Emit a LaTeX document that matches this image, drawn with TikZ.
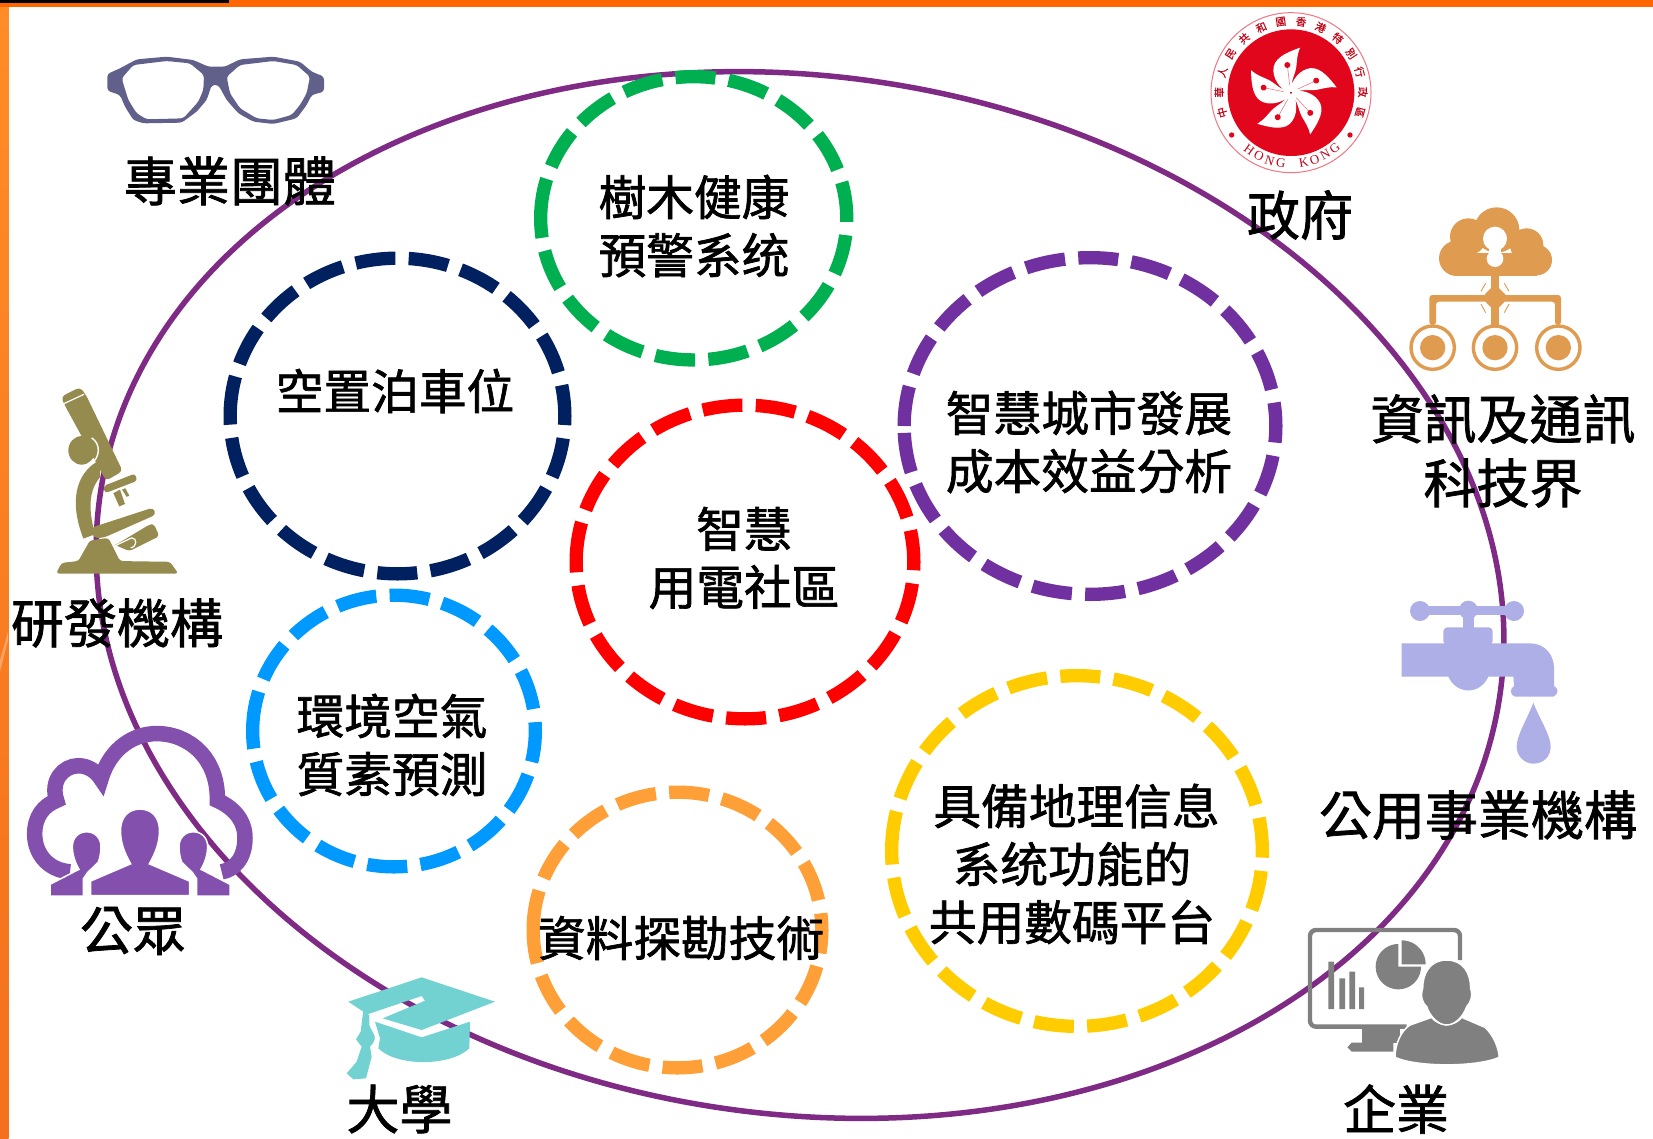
\documentclass[tikz,border=0pt]{standalone}
\usepackage{fontspec}
\setmainfont[FakeBold=1.4]{Noto Sans CJK TC}
\newfontfamily\hkcjk[FakeBold=0.6]{Noto Sans CJK TC}
\newfontfamily\hkser{Liberation Serif}
\usetikzlibrary{shapes.geometric}
\definecolor{oval}{HTML}{7F2A85}
\definecolor{glass}{HTML}{60608A}
\definecolor{hkred}{HTML}{E2061C}
\definecolor{netc}{HTML}{DF9B50}
\definecolor{micro}{HTML}{958B4F}
\definecolor{crowd}{HTML}{8350AE}
\definecolor{tapc}{HTML}{AFAFE8}
\definecolor{capc}{HTML}{72D2D2}
\definecolor{bizc}{HTML}{808080}
\definecolor{rgreen}{HTML}{00B050}
\definecolor{rnavy}{HTML}{002060}
\definecolor{rpurple}{HTML}{7030A0}
\definecolor{rred}{HTML}{FF0000}
\definecolor{rblue}{HTML}{0099FF}
\definecolor{rorange}{HTML}{FF9F38}
\definecolor{ryellow}{HTML}{FFCC00}
\definecolor{barorange}{HTML}{FF6600}
\definecolor{sidetop}{HTML}{FF8C26}
\definecolor{sidebot}{HTML}{F4701E}
\tikzset{
  ringnode/.style={ellipse,draw=#1,line width=13.33pt,inner sep=0pt,outer sep=0pt,dash pattern=on 40pt off 13.33pt,transform shape},
  big/.style={font=\fontsize{47.7}{58}\selectfont,align=center,inner sep=0pt,text=black},
  outer/.style={font=\fontsize{53}{64}\selectfont,align=center,inner sep=0pt,text=black},
  zoomed/.style 2 args={shift={(#1,#2)},x=0.33333pt,y=-0.33333pt},
  zoomedtall/.style 2 args={shift={(#1,#2)},x=0.33333pt,y=-0.35714pt},
}
\newcommand{\dashring}[6]{%
  \begin{scope}[shift={(#2,#3)},xscale=-1]
  \node[ringnode=#6,minimum width=#4*2pt-13.33pt,minimum height=#5*2pt-13.33pt] (#1) at (0,0) {};
  \end{scope}}
\begin{document}
\begin{tikzpicture}[x=1pt,y=-1pt]
\useasboundingbox (0,0) rectangle (1653,1138);
\fill[white] (0,0) rectangle (1653,1138);
% frame
\shade[top color=sidetop,bottom color=sidebot] (0,6) rectangle (8.5,1138);
\fill[white,opacity=.3] (0,672) -- (8,640) -- (8,632) -- (0,660) -- cycle;
\fill[barorange] (0,0) rectangle (1653,6.5);
\fill[black] (0,0) rectangle (229,2.6);
% big oval
\node[ellipse,draw=oval,line width=5.5pt,inner sep=0pt,outer sep=0pt,minimum width=1414pt,minimum height=1038pt,rotate=-8] (field) at (800,595) {};
% rings
\dashring{ringgreen}{693.7}{218.3}{159.7}{148.3}{rgreen}
\dashring{ringnavy}{397.5}{416}{174}{164.5}{rnavy}
\dashring{ringpurple}{1090}{426}{192.5}{175}{rpurple}
\dashring{ringred}{745}{562}{175.5}{163.5}{rred}
\dashring{ringblue}{394}{731}{148}{142.5}{rblue}
\dashring{ringorange}{677.5}{930}{151}{144.5}{rorange}
\dashring{ringyellow}{1077}{851}{192}{182}{ryellow}
% ring texts
\node[big] (tree) at (694,226) {樹木健康\\預警系统};
\node[big] (park) at (395,391) {空置泊車位};
\node[big] (cost) at (1089,442) {智慧城市發展\\成本效益分析};
\node[big] (power) at (744,558) {智慧\\用電社區};
\node[big] (air) at (392,745) {環境空氣\\質素預測};
\node[big] (mine) at (681,938) {資料探勘技術};
\node[big] (gis) at (1072,864) {\hspace*{9pt}具備地理信息\\系统功能的\\共用數碼平台};
% outer labels
\node[outer] (lprof) at (230,181) {專業團體};
\node[outer] (lgov) at (1300,215) {政府};
\node[outer] (lict) at (1503,451) {資訊及通訊\\科技界};
\node[outer] (lrd) at (117,623) {研發機構};
\node[outer] (lpub) at (133,931) {公眾};
\node[outer] (luni) at (399.5,1109) {大學};
\node[outer] (lutil) at (1478,815) {公用事業機構};
\node[outer] (lbiz) at (1396,1109) {企業};
% glasses
\begin{scope}[zoomed={100}{50}]
\fill[glass,even odd rule,rounded corners=3pt] (22,72) -- (60,55) -- (110,28) -- (200,20) -- (280,30) -- (325,50) -- (375,50) -- (420,28) -- (520,20) -- (600,35) -- (635,65) -- (672,80) -- (672,125) -- (635,135) -- (620,165) -- (590,205) -- (520,222) -- (460,215) -- (415,190) -- (380,150) -- (355,105) -- (335,105) -- (320,150) -- (290,185) -- (245,218) -- (130,220) -- (100,210) -- (75,170) -- (60,135) -- (22,122) -- cycle
 (65,85) -- (100,45) -- (200,33) -- (270,40) -- (312,75) -- (310,120) -- (295,155) -- (250,205) -- (140,208) -- (110,190) -- (85,150) -- cycle
 (380,80) -- (420,45) -- (520,33) -- (590,45) -- (630,80) -- (620,130) -- (600,165) -- (575,195) -- (520,210) -- (470,205) -- (420,175) -- (390,130) -- cycle;
\end{scope}
% Hong Kong emblem
\begin{scope}[zoomed={1180}{0}]
\fill[white] (333,278) circle (240);
\draw[hkred!55!white,line width=1pt] (333,278) circle (240);
\fill[hkred] (333,278) circle (190);
\foreach \a in {0,72,...,288}{
 \begin{scope}[shift={(333,278)},rotate=\a]
 \fill[white] (-8,2) .. controls (-35,-15) and (-58,-45) .. (-52,-78) .. controls (-45,-110) and (0,-125) .. (27,-135) .. controls (18,-115) and (18,-95) .. (16,-78) .. controls (12,-50) and (-5,-30) .. (6,-8) -- cycle;
 \draw[hkred!60!white,line width=.5pt] (-4,-22) -- (-11,-83);
 \fill[hkred] (-11,-83) circle (9);
 \end{scope}}
\fill[hkred] (155,405) circle (8);
\fill[hkred] (510,405) circle (8);
\foreach \c [count=\i from 0] in {中,華,人,民,共,和,國,香,港,特,別,行,政,區}{
 \node[inner sep=0pt,text=hkred!85!black,font=\hkcjk\fontsize{10.5}{11}\selectfont,rotate={196-16.3*\i-90}] (hkc\i) at ({333+215*cos(196-16.3*\i)},{278-215*sin(196-16.3*\i)}) {\c};}
\foreach \c [count=\i from 0] in {H,O,N,G,{},K,O,N,G}{
 \node[inner sep=0pt,text=hkred!85!black,font=\hkser\fontsize{13}{13}\selectfont,rotate={234+9.25*\i+90}] (hkl\i) at ({333+213*cos(234+9.25*\i)},{278-213*sin(234+9.25*\i)}) {\c};}
\end{scope}
% network cloud
\begin{scope}[zoomed={1180}{0}]
\fill[netc] (950,690) circle (68) (865,710) circle (55) (1040,735) circle (50) (830,775) circle (53) (1070,780) circle (46);
\fill[netc] (830,760) rectangle (1070,828);
\fill[white] (945,716) circle (36);
\fill[white] (945,776) circle (25);
\fill[white] (927,735) rectangle (963,776);
\fill[netc] (934,825) rectangle (956,975);
\fill[netc] (945,852) -- (985,893) -- (945,935) -- (905,893) -- cycle;
\fill[netc,rounded corners=3pt] (748,975) -- (748,885) -- (1143,885) -- (1143,975) -- (1125,975) -- (1125,905) -- (768,905) -- (768,975) -- cycle;
\foreach \x in {758,945,1135}{
 \draw[netc,line width=3.4pt] (\x,1043) circle (65);
 \fill[netc] (\x,1043) circle (38);}
\draw[netc,line width=.9pt] (917,850) -- (903,874) (973,850) -- (987,874) (903,912) -- (917,938) (987,912) -- (973,938);
\end{scope}
% microscope
\begin{scope}[zoomedtall={0}{370}]
\fill[micro,rounded corners=4pt] (183,75) -- (240,48) -- (258,70) -- (368,283) -- (318,310) -- (195,100) -- cycle;
\draw[white,line width=1.2pt] (190,95) -- (252,68);
\fill[micro] (245,225) circle (40);
\draw[white,line width=1.4pt] (275,190) .. controls (300,205) and (305,240) .. (270,268);
\fill[micro] (300,252) .. controls (240,280) and (200,350) .. (250,472) -- (285,460) .. controls (265,390) and (265,340) .. (300,300) -- cycle;
\fill[micro,rounded corners=4pt] (272,442) -- (460,385) -- (468,405) -- (310,470) -- (280,470) -- cycle;
\fill[micro,rounded corners=3pt] (270,477) -- (325,470) -- (360,535) -- (510,537) -- (535,570) -- (168,570) -- (185,540) -- (235,535) -- cycle;
\fill[micro,rounded corners=3pt] (310,325) -- (405,290) -- (412,310) -- (315,345) -- cycle;
\fill[micro] (340,345) -- (360,335) -- (375,375) -- (358,382) -- cycle;
\fill[micro] (366,335) -- (376,331) -- (388,352) -- (380,355) -- cycle;
\fill[micro,rounded corners=3pt] (350,488) -- (450,432) -- (462,432) -- (478,465) -- (388,507) -- (345,490) -- cycle;
\draw[white,line width=1.2pt] (350,490) -- (395,470) .. controls (412,470) and (412,495) .. (392,498);
\end{scope}
% crowd cloud
\begin{scope}[zoomedtall={0}{370}]
\draw[crowd,line width=15.5pt,miter limit=10] (210,1405) .. controls (140,1400) and (104,1350) .. (104,1300) .. controls (104,1250) and (130,1220) .. (170,1205) .. controls (150,1150) and (190,1108) .. (235,1108) .. controls (265,1108) and (290,1125) .. (303,1145) .. controls (330,1060) and (400,1018) .. (470,1018) .. controls (570,1018) and (655,1090) .. (652,1205) .. controls (700,1225) and (735,1260) .. (735,1310) .. controls (735,1370) and (700,1400) .. (665,1405);
\fill[crowd,draw=white,line width=1.5pt] (150,1473) -- (150,1440) -- (237,1398) .. controls (222,1375) and (217,1350) .. (217,1335) .. controls (217,1310) and (235,1293) .. (260,1293) .. controls (285,1293) and (303,1310) .. (303,1335) .. controls (303,1350) and (300,1365) .. (295,1378) -- (262,1408) -- (250,1425) -- (250,1473) -- cycle;
\fill[crowd,draw=white,line width=1.5pt] (690,1473) -- (690,1440) -- (603,1398) .. controls (618,1375) and (623,1350) .. (623,1335) .. controls (623,1310) and (605,1293) .. (580,1293) .. controls (555,1293) and (537,1310) .. (537,1335) .. controls (537,1350) and (540,1365) .. (545,1378) -- (578,1408) -- (590,1425) -- (590,1473) -- cycle;
\fill[crowd,draw=white,line width=2.5pt] (270,1473) -- (270,1430) -- (390,1382) .. controls (370,1350) and (360,1320) .. (360,1290) .. controls (360,1250) and (385,1228) .. (420,1228) .. controls (455,1228) and (480,1250) .. (480,1290) .. controls (480,1320) and (470,1350) .. (450,1382) -- (570,1430) -- (570,1473) -- cycle;
\end{scope}
% tap
\begin{scope}[zoomed={1380}{580}]
\fill[tapc] (120,93) circle (30) (265,90) circle (28) (402,93) circle (30);
\fill[tapc] (120,78) rectangle (402,106);
\fill[tapc] (250,100) rectangle (282,150);
\fill[tapc,rounded corners=4pt] (190,195) -- (190,142) -- (338,142) -- (338,195) -- cycle;
\fill[tapc] (65,190) -- (450,190) .. controls (495,190) and (522,225) .. (522,265) -- (522,318) .. controls (535,325) and (538,340) .. (520,350) -- (405,350) .. controls (388,345) and (390,325) .. (402,318) -- (400,290) -- (325,290) .. controls (300,345) and (230,345) .. (205,290) -- (65,290) -- cycle;
\fill[tapc] (460,368) .. controls (445,410) and (410,465) .. (410,500) .. controls (410,530) and (435,551) .. (460,551) .. controls (490,551) and (512,530) .. (512,500) .. controls (512,465) and (475,410) .. (460,368) -- cycle;
\end{scope}
% business icon
\begin{scope}[zoomed={1290}{910}]
\draw[bizc,line width=4.4pt,rounded corners=6pt] (510,150) -- (510,60) -- (60,60) -- (60,350) -- (350,350);
\fill[bizc] (215,355) rectangle (330,400);
\fill[bizc] (310,425) -- (185,425) -- (172,412) -- (185,398) -- (310,398) -- cycle;
\fill[bizc] (115,155) rectangle (132,297) (148,205) rectangle (165,297) (178,185) rectangle (195,297) (207,232) rectangle (222,297);
\fill[bizc] (325,170) -- plot[domain=90:360,samples=40] ({325+68*cos(\x)},{170-68*sin(\x)}) -- cycle;
\fill[bizc] (335,163) -- plot[domain=0:90,samples=20] ({335+72*cos(\x)},{163-72*sin(\x)}) -- cycle;
\fill[bizc,draw=white,line width=1.5pt] (315,442) .. controls (315,400) and (335,360) .. (360,345) -- (425,322) .. controls (445,350) and (495,350) .. (515,322) -- (585,352) .. controls (610,375) and (625,410) .. (628,442) .. controls (560,472) and (380,472) .. (315,442) -- cycle;
\fill[bizc,draw=white,line width=1.5pt] (470,150) .. controls (520,150) and (542,190) .. (542,235) .. controls (550,260) and (540,280) .. (530,290) .. controls (520,320) and (495,345) .. (470,345) .. controls (445,345) and (420,320) .. (410,290) .. controls (398,280) and (390,260) .. (398,235) .. controls (398,190) and (420,150) .. (470,150) -- cycle;
\end{scope}
% graduation cap
\begin{scope}[zoomed={330}{950}]
\fill[capc] (55,155) -- (275,82) -- (495,155) -- (275,240) -- (158,205) -- (285,152) -- (275,138) -- (112,193) -- cycle;
\fill[capc] (135,215) -- (275,262) -- (420,215) -- (418,295) .. controls (360,350) and (200,350) .. (145,295) -- (150,265) -- cycle;
\fill[capc] (100,181) -- (118,196) -- (118,225) .. controls (125,250) and (150,260) .. (120,290) -- (125,320) -- (108,385) -- (70,388) -- (50,370) -- (80,335) -- (95,290) -- (78,268) -- (92,245) -- cycle;
\end{scope}
\end{tikzpicture}
\end{document}
